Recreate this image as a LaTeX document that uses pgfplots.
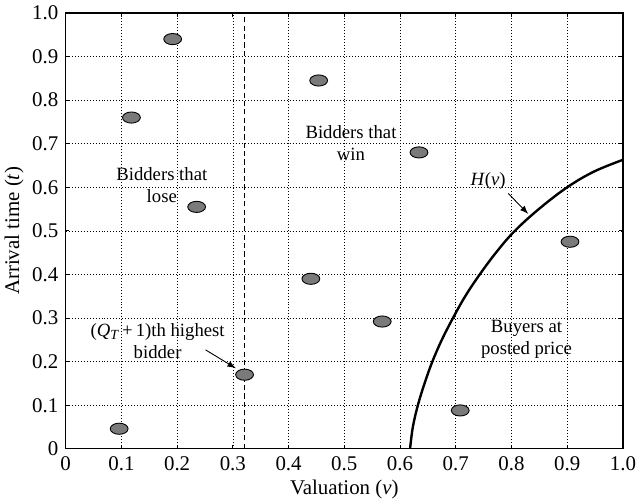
\documentclass[border=0pt]{standalone}
\usepackage{fontspec}
\setmainfont{Liberation Serif}
\usepackage{pgfplots}
\pgfplotsset{compat=1.18}
\definecolor{markgray}{RGB}{122,122,122}
\begin{document}
\begin{tikzpicture}[font=\fontsize{9.4}{11}\selectfont]
\begin{axis}[
  scale only axis,
  width=280pt, height=219pt,
  xmin=0, xmax=1, ymin=0, ymax=1,
  xtick={0,0.1,...,1.0}, ytick={0,0.1,...,1.0},
  xticklabels={0,0.1,0.2,0.3,0.4,0.5,0.6,0.7,0.8,0.9,1.0},
  yticklabels={0,0.1,0.2,0.3,0.4,0.5,0.6,0.7,0.8,0.9,1.0},
  tick align=inside,
  major tick length=1.8pt,
  tick style={black, line width=0.4pt},
  axis line style={black, line width=0.7pt},
  grid=major,
  major grid style={black, line width=0.35pt, dash pattern=on 0.5pt off 1pt},
  ticklabel style={font=\fontsize{10.5}{12}\selectfont, inner sep=0pt},
  xticklabel style={anchor=north, yshift=-3.5pt},
  yticklabel style={anchor=east, xshift=-3.5pt},
  xlabel={Valuation (\textit{v})},
  ylabel={Arrival time (\textit{t})},
  label style={font=\fontsize{10.5}{12}\selectfont, inner sep=0pt},
  xlabel style={at={(axis description cs:0.5,0)}, anchor=base, yshift=-23pt},
  ylabel style={at={(axis description cs:-0.075,0.5)}, anchor=south},
  clip=false,
]
% dashed threshold line
\addplot[black, line width=0.5pt, dash pattern=on 2.6pt off 1.6pt] coordinates {(0.32,0) (0.32,1)};
% H(v) curve
\addplot[black, line width=1.2pt, smooth, tension=0.6] coordinates {
 (0.618,0) (0.623,0.05) (0.632,0.1) (0.644,0.15) (0.658,0.2) (0.675,0.25)
 (0.695,0.3) (0.717,0.35) (0.743,0.4) (0.774,0.453) (0.806,0.5) (0.85,0.551)
 (0.9,0.6) (0.948,0.636) (1.0,0.663)};
% bidders
\addplot[only marks, mark=*, mark size=2.8pt,
  mark options={xscale=1.6, fill=markgray, draw=black, line width=0.45pt}] coordinates {
 (0.096,0.046) (0.118,0.760) (0.192,0.940) (0.235,0.555) (0.321,0.170)
 (0.440,0.390) (0.454,0.845) (0.634,0.680) (0.568,0.292) (0.708,0.088)
 (0.905,0.475)};
% annotations
\node[align=center, inner sep=0pt] at (axis cs:0.1725,0.604) {Bidders that\\lose};
\node[align=center, inner sep=0pt] at (axis cs:0.512,0.702) {Bidders that\\win};
\node[inner sep=0pt] at (axis cs:0.758,0.615) {\textit{H}(\textit{v})};
\draw[-{latex}, line width=0.45pt] (axis cs:0.794,0.586) -- (axis cs:0.830,0.539);
\node[align=center, inner sep=0pt] at (axis cs:0.165,0.247) {(\textit{Q}$_{\textit{\scriptsize T}}$\,+\,1)th highest\\bidder};
\draw[-{latex}, line width=0.45pt] (axis cs:0.251,0.227) -- (axis cs:0.305,0.185);
\node[align=center, inner sep=0pt] at (axis cs:0.827,0.252) {Buyers at\\posted price};
\end{axis}
\path (-33pt,-25.5pt) rectangle (285pt,225.5pt);
\end{tikzpicture}
\end{document}
